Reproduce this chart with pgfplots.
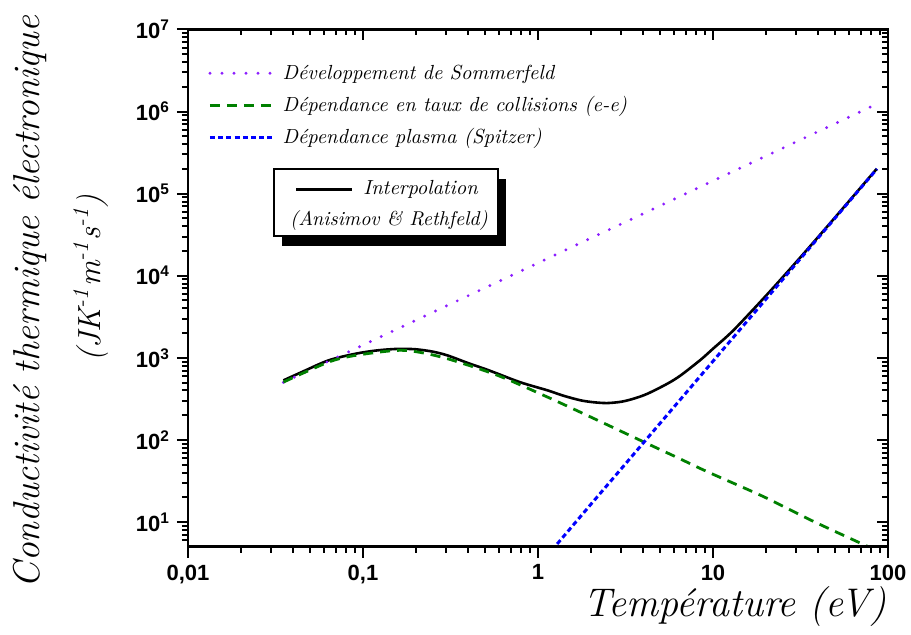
\documentclass[border=0pt]{standalone}
\usepackage{fontspec}
\usepackage{pgfplots}
\pgfplotsset{compat=1.18}
\usetikzlibrary{shadows}
\newfontfamily\arialfont{Liberation Sans}
\newcommand\labelfont{\rmfamily\itshape}
\definecolor{sommer}{RGB}{140,30,255}
\definecolor{eegreen}{RGB}{0,128,0}
\definecolor{spitzer}{RGB}{0,0,255}
\pgfplotsset{legend image code/.code={\draw[#1] (0pt,0pt) -- (32.5pt,0pt); \path (33.5pt,0pt);}}
\newcommand\minorx{0.02,0.03,0.04,0.05,0.06,0.07,0.08,0.09,0.2,0.3,0.4,0.5,0.6,0.7,0.8,0.9,2,3,4,5,6,7,8,9,20,30,40,50,60,70,80,90}
\newcommand\minory{6,7,8,9,20,30,40,50,60,70,80,90,200,300,400,500,600,700,800,900,2000,3000,4000,5000,6000,7000,8000,9000,20000,30000,40000,50000,60000,70000,80000,90000,200000,300000,400000,500000,600000,700000,800000,900000,2000000,3000000,4000000,5000000,6000000,7000000,8000000,9000000}

\begin{document}
\begin{tikzpicture}
\useasboundingbox (-94pt,-44.15pt) rectangle (361.5pt,273.35pt);
% lower and left frame: outward ticks with labels
\begin{axis}[
  width=350pt, height=258.6pt, scale only axis,
  at={(0pt,0pt)}, anchor=south west,
  xmode=log, ymode=log,
  xmin=0.01, xmax=100, ymin=5, ymax=1e7,
  xtick={0.01,0.1,1,10,100},
  ytick={10,100,1000,10000,100000,1000000,10000000},
  minor xtick/.expand once=\minorx,
  minor ytick/.expand once=\minory,
  axis line style={line width=1.25pt},
  major tick length=5.5pt, minor tick length=3pt,
  tick style={black, line width=1pt},
  tick align=outside, xtick pos=left, ytick pos=left,
  xticklabels={{0,01},{0,1},{1},{10},{100}},
  yticklabels={10\textsuperscript{1},10\textsuperscript{2},10\textsuperscript{3},
               10\textsuperscript{4},10\textsuperscript{5},10\textsuperscript{6},10\textsuperscript{7}},
  ticklabel style={font=\arialfont\bfseries\fontsize{11}{13}\selectfont},
  legend style={at={(axis description cs:0.02,0.955)}, anchor=north west,
    draw=none, fill=none, font=\labelfont\fontsize{10.2}{13}\selectfont,
    nodes={text height=9pt, text depth=3pt, inner sep=2pt},
    row sep=0pt},
  legend cell align=left,
]
% interpolated conductivity (Anisimov & Rethfeld)
\addplot[black, line width=1.3pt, smooth, forget plot] coordinates {
  (0.0351,531) (0.045,675) (0.0634,929) (0.0898,1117) (0.12,1230)
  (0.159,1285) (0.2,1270) (0.25,1190) (0.305,1067) (0.4,860)
  (0.5,730) (0.589,640) (0.8,500) (1.135,401) (1.4,345)
  (1.758,303) (2.1,287) (2.49,281) (3.0,292) (3.54,319)
  (4.22,365) (5.48,483) (6.53,610) (8.49,945) (10,1290) (13.1,2170)
  (20.4,5920) (31.5,16650) (48.8,48700) (86.3,201000)
};
% Sommerfeld expansion
\addplot[sommer, line width=1.6pt, line cap=round, dash pattern=on 0pt off 6pt]
  coordinates {(0.0351,502) (0.1,1430) (1,14300) (10,143000) (86.5,1240000)};
\addlegendentry{D\'eveloppement de Sommerfeld}
% electron-electron collision rate
\addplot[eegreen, line width=1.4pt, dash pattern=on 5pt off 3.5pt, smooth] coordinates {
  (0.0351,506) (0.0634,885) (0.0898,1067) (0.152,1227) (0.2,1190)
  (0.305,973) (0.589,610) (1.135,332) (2.0,190) (4.22,90)
  (6.25,61) (9.27,41) (19.5,20.3) (36.0,10.6) (74.0,5.2) (86.5,4.45)
};
\addlegendentry{D\'ependance en taux de collisions (e-e)}
% Spitzer plasma limit
\addplot[spitzer, line width=1.5pt, dash pattern=on 2.5pt off 1.6pt] coordinates {
  (1.2,4.53) (1.5,7.92) (2,16.3) (3,44.8) (5,160.6) (10,909)
  (20,5141) (50,50810) (86.5,200000)
};
\addlegendentry{D\'ependance plasma (Spitzer)}
\end{axis}
% upper and right frame: inward ticks, no labels
\begin{axis}[
  width=350pt, height=258.6pt, scale only axis,
  at={(0pt,0pt)}, anchor=south west,
  xmode=log, ymode=log,
  xmin=0.01, xmax=100, ymin=5, ymax=1e7,
  xtick={0.01,0.1,1,10,100},
  ytick={10,100,1000,10000,100000,1000000,10000000},
  minor xtick/.expand once=\minorx,
  minor ytick/.expand once=\minory,
  axis line style={line width=1.25pt},
  major tick length=5.5pt, minor tick length=3pt,
  tick style={black, line width=1pt},
  tick align=inside, xtick pos=right, ytick pos=right,
  xticklabels={}, yticklabels={},
]
\end{axis}

% boxed legend of the interpolation curve
\node[draw=black, line width=0.8pt, fill=white, anchor=north west,
      minimum width=112pt, minimum height=33.5pt, inner sep=0pt,
      drop shadow={shadow xshift=4.25pt, shadow yshift=-5pt, fill=black, opacity=1}]
  at (42.5pt,189.35pt) {};
\draw[black, line width=1.3pt] (54pt,178.7pt) -- (81.85pt,178.7pt);
\node[anchor=west, inner sep=0pt, font=\labelfont\fontsize{10.2}{13}\selectfont]
  at (87.5pt,178.7pt) {Interpolation};
\node[inner sep=0pt, font=\labelfont\fontsize{10}{13}\selectfont]
  at (100.5pt,163pt) {(Anisimov \& Rethfeld)};

% axis titles
\node[rotate=90, font=\labelfont\fontsize{18.7}{23}\selectfont]
  at (-79pt,122.35pt) {Conductivit\'e thermique \'electronique};
\node[rotate=90, font=\labelfont\fontsize{16}{20}\selectfont]
  at (-48.5pt,134.35pt) {(JK\textsuperscript{-1}\kern0.5pt m\textsuperscript{-1}\kern0.5pt s\textsuperscript{-1})};
\node[font=\labelfont\fontsize{20}{24}\selectfont]
  at (273.5pt,-30.15pt) {Temp\'erature (eV)};
\end{tikzpicture}
\end{document}
